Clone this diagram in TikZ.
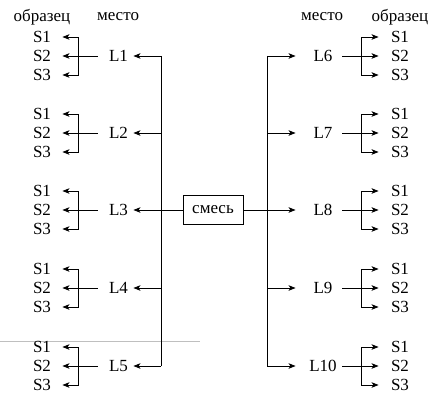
\documentclass[tikz,border=0pt]{standalone}
\usepackage{fontspec}
\setmainfont{Liberation Serif}
\usetikzlibrary{arrows.meta}
\begin{document}
\begin{tikzpicture}[x=1pt,y=-1pt,
  font=\fontsize{17}{19}\selectfont,
  line width=0.9pt,
  arr/.style={-{Stealth[length=7pt,width=5.5pt,inset=1.8pt]}},
  slab/.style={inner sep=0pt,minimum width=20pt,minimum height=14pt},
  llab/.style={inner sep=0pt,minimum width=29pt,minimum height=14pt},
  rlab/.style={inner sep=0pt,minimum width=30pt,minimum height=14pt},
  hdr/.style={inner sep=0pt},
  mixbox/.style={draw,inner sep=0pt,minimum width=60pt,minimum height=29pt}]
\useasboundingbox (0,0) rectangle (434,404);
% scan artefact
\draw[black!25,line width=0.6pt] (0,341) -- (200,341);
% headers
\node[hdr] (hl1) at (42,17) {образец};
\node[hdr] (hl2) at (118,17) {место};
\node[hdr] (hr1) at (322,17) {место};
\node[hdr] (hr2) at (400,17) {образец};
% mixture box
\node[mixbox] (mix) at (213,210) {смесь};
% left side
\foreach \i/\yc in {1/56,2/133,3/210,4/288,5/366}{
  \node[slab] (a\i1) at (42,\yc-19) {S1};
  \node[slab] (a\i2) at (42,\yc) {S2};
  \node[slab] (a\i3) at (42,\yc+19) {S3};
  \node[llab] (L\i) at (118.5,\yc) {L\i};
  \coordinate (ja\i) at (78,\yc);
  \coordinate (ta\i) at (161,\yc);
  \draw[arr,shorten <=6pt,shorten >=10pt] (L\i.west) -- (a\i2.east);
  \draw[arr,shorten >=10pt] (ja\i) |- (a\i1.east);
  \draw[arr,shorten >=10pt] (ja\i) |- (a\i3.east);
}
\draw (ta1) -- (ta5);
\foreach \i in {1,2,4,5}{\draw[arr] (ta\i) -- (L\i.east);}
\draw[arr] (mix.west) -- (L3.east);
% right side
\foreach \i/\k/\yc in {1/6/56,2/7/133,3/8/210,4/9/288,5/10/366}{
  \node[slab] (b\i1) at (400,\yc-19) {S1};
  \node[slab] (b\i2) at (400,\yc) {S2};
  \node[slab] (b\i3) at (400,\yc+19) {S3};
  \node[rlab] (R\i) at (323,\yc) {L\k};
  \coordinate (jb\i) at (361,\yc);
  \coordinate (tb\i) at (267,\yc);
  \draw[arr,shorten <=4pt,shorten >=11pt] (R\i.east) -- (b\i2.west);
  \draw[arr,shorten >=11pt] (jb\i) |- (b\i1.west);
  \draw[arr,shorten >=11pt] (jb\i) |- (b\i3.west);
}
\draw (tb1) -- (tb5);
\foreach \i in {1,2,4,5}{\draw[arr,shorten >=12pt] (tb\i) -- (R\i.west);}
\draw[arr,shorten >=12pt] (mix.east) -- (R3.west);
\end{tikzpicture}
\end{document}
